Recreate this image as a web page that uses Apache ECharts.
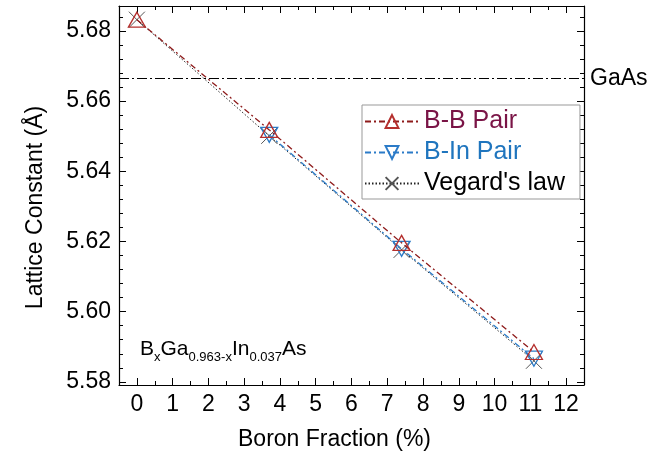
<!DOCTYPE html>
<html><head><meta charset="utf-8">
<script src="https://cdn.jsdelivr.net/npm/echarts@6/dist/echarts.min.js"></script>
<style>html,body{margin:0;padding:0;background:#fff}#c{width:665px;height:457px}</style>
</head><body><div id="c"></div>
<script>
const boronX = [0, 3.7, 7.4, 11.1];
const bbPair = [5.6832, 5.6518, 5.6196, 5.5885];
const binX = [3.7, 7.4, 11.1];
const binPair = [5.6504, 5.6179, 5.5866];
const vegard = [5.6832, 5.6501, 5.6176, 5.5860];
const gaAs = 5.6664;
const xTicks = [0,1,2,3,4,5,6,7,8,9,10,11,12];
const xMinor = [0.5,1.5,2.5,3.5,4.5,5.5,6.5,7.5,8.5,9.5,10.5,11.5];
const yTicks = [5.58,5.60,5.62,5.64,5.66,5.68];
const yMinor = [5.584,5.588,5.592,5.596,5.604,5.608,5.612,5.616,5.624,5.628,5.632,5.636,5.644,5.648,5.652,5.656,5.664,5.668,5.672,5.676,5.684];
const names = ['B-B Pair','B-In Pair',"Vegard's law"];

const FONT = "'Liberation Sans', Arial, sans-serif";
const X_MIN = -0.5, X_MAX = 12.5, Y_MIN = 5.5791, Y_MAX = 5.6871;

function xAx(pos, vals, len, labels, line) {
  return {
    type: 'value', position: pos, min: X_MIN, max: X_MAX, interval: 0.5,
    axisLine: {show: line, lineStyle: {color: '#000', width: 1.2}},
    axisTick: {show: true, inside: true, length: len, customValues: vals, lineStyle: {color: '#000', width: 1}},
    axisLabel: labels ? {show: true, customValues: xTicks, color: '#000', fontSize: 23, fontFamily: FONT, margin: 8} : {show: false},
    splitLine: {show: false}
  };
}
function yAx(pos, vals, len, labels, line) {
  return {
    type: 'value', position: pos, min: Y_MIN, max: Y_MAX, scale: true,
    axisLine: {show: line, onZero: false, lineStyle: {color: '#000', width: 1.2}},
    axisTick: {show: true, inside: true, length: len, customValues: vals, lineStyle: {color: '#000', width: 1}},
    axisLabel: labels ? {show: true, customValues: yTicks, color: '#000', fontSize: 23, fontFamily: FONT, margin: 8, formatter: v => v.toFixed(2)} : {show: false},
    splitLine: {show: false}
  };
}

const xAxes = [
  Object.assign(xAx('bottom', xTicks, 7, true, true), {name: 'Boron Fraction (%)', nameLocation: 'middle', nameGap: 43, nameTextStyle: {fontSize: 23, fontFamily: FONT, color: '#000', padding: [0, 34, 0, 0]}}),
  xAx('bottom', xMinor, 4, false, false),
  xAx('top', xTicks, 7, false, true),
  xAx('top', xMinor, 4, false, false)
];
const yAxes = [
  Object.assign(yAx('left', yTicks, 7, true, true), {name: 'Lattice Constant (Å)', nameLocation: 'middle', nameGap: 72, nameTextStyle: {fontSize: 23, fontFamily: FONT, color: '#000', padding: [0, 24, 0, 0]}}),
  yAx('left', yMinor, 4, false, false),
  yAx('right', yTicks, 7, false, true),
  yAx('right', yMinor, 4, false, false)
];

const crossPath = 'path://M0,0L10,10M10,0L0,10';

const option = {
  animation: false,
  grid: {left: 119, right: 81, top: 6, bottom: 72, containLabel: false},
  xAxis: xAxes,
  yAxis: yAxes,
  legend: {
    left: 362, top: 105, orient: 'vertical', itemWidth: 54, itemHeight: 16, itemGap: 6,
    padding: [4, 15, 3, 2], borderColor: '#999', borderWidth: 1, backgroundColor: '#fff',
    textStyle: {fontSize: 25, fontFamily: FONT},
    data: [
      {name: names[0], textStyle: {color: '#7A1446'}},
      {name: names[1], textStyle: {color: '#1F75BE'}},
      {name: names[2], textStyle: {color: '#000'}}
    ]
  },
  graphic: [{
    type: 'text', left: 140, top: 339,
    style: {
      text: 'B{sub|x}Ga{sub|0.963-x}In{sub|0.037}As',
      font: '21px ' + FONT, fill: '#000',
      rich: {
        sub: {fontSize: 13, fontFamily: FONT, padding: [12, 0, 0, 0], verticalAlign: 'top', lineHeight: 13}
      },
      verticalAlign: 'top'
    }
  }],
  series: [
    {
      name: names[2], type: 'line', data: boronX.map((x, i) => [x, vegard[i]]),
      symbol: crossPath, symbolSize: 16,
      itemStyle: {color: 'none', borderColor: '#555', borderWidth: 1},
      lineStyle: {color: '#222', width: 1, type: [1.5, 2]}, z: 2
    },
    {
      name: names[1], type: 'line', data: binX.map((x, i) => [x, binPair[i]]),
      symbol: 'triangle', symbolRotate: 180, symbolSize: [17, 15],
      itemStyle: {color: 'none', borderColor: '#2B7BC8', borderWidth: 1.3},
      lineStyle: {color: '#2B7BC8', width: 1.3, type: [6, 3, 2, 3]}, z: 3
    },
    {
      name: names[0], type: 'line', data: boronX.map((x, i) => [x, bbPair[i]]),
      symbol: 'triangle', symbolSize: [17, 15],
      itemStyle: {color: 'none', borderColor: '#B5302E', borderWidth: 1.3},
      lineStyle: {color: '#8E1B1B', width: 1.3, type: [6, 3, 2, 3]}, z: 4,
      markLine: {
        silent: true, symbol: 'none', precision: 5,
        lineStyle: {color: '#000', width: 1, type: [10, 3, 2, 3]},
        label: {show: true, position: 'end', formatter: 'GaAs', fontSize: 23, fontFamily: FONT, color: '#000', distance: 6},
        data: [{yAxis: gaAs}]
      }
    }
  ]
};
const chart = echarts.init(document.getElementById('c'), null, {renderer: 'canvas'});
chart.setOption(option);
</script>
</body></html>
